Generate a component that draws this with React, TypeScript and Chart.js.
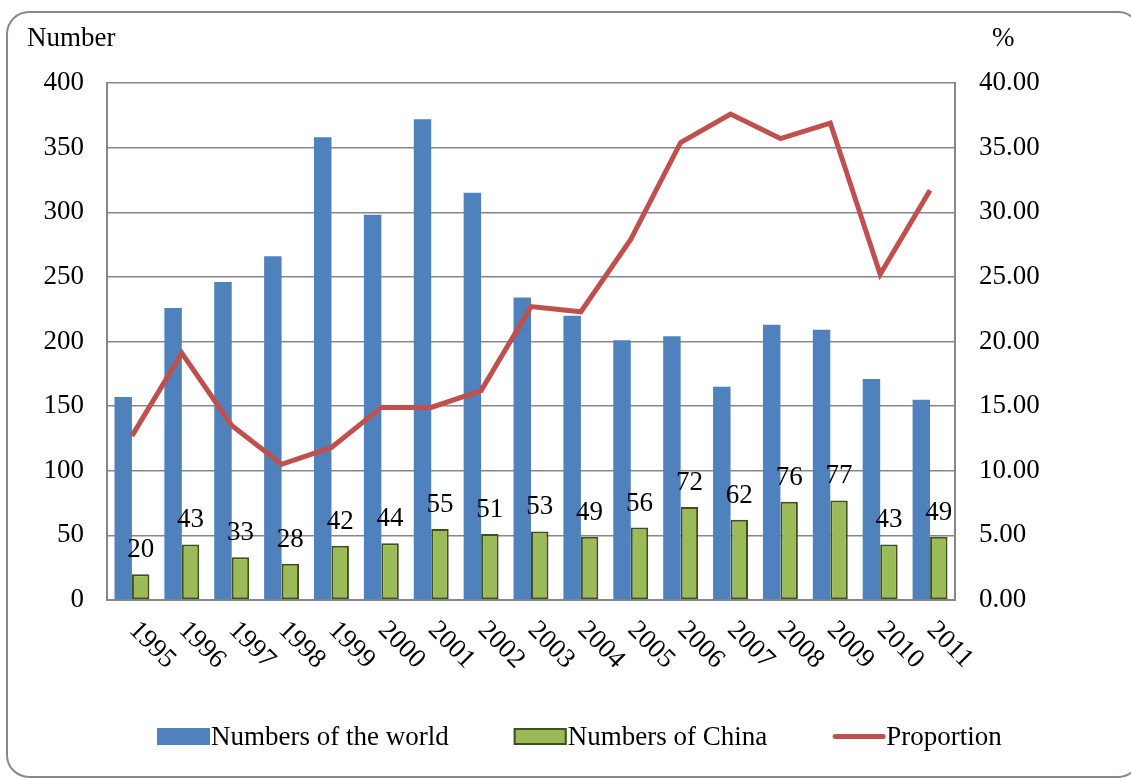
import React, { useEffect, useRef } from "react";
import { Chart, registerables } from "chart.js";

Chart.register(...registerables);

const years = ["1995", "1996", "1997", "1998", "1999", "2000", "2001", "2002", "2003", "2004", "2005", "2006", "2007", "2008", "2009", "2010", "2011"];
const worldCounts = [157, 226, 246, 266, 358, 298, 372, 315, 234, 220, 201, 204, 165, 213, 209, 171, 155];
const chinaCounts = [20, 43, 33, 28, 42, 44, 55, 51, 53, 49, 56, 72, 62, 76, 77, 43, 49];
const proportion = [12.7, 19.1, 13.5, 10.5, 11.8, 14.9, 14.9, 16.2, 22.7, 22.3, 27.9, 35.4, 37.6, 35.7, 36.9, 25.2, 31.7];
const leftAxisTitle = "Number";
const rightAxisTitle = "%";
const seriesNames = ["Numbers of the world", "Numbers of China", "Proportion"];

const FONT = "'Liberation Serif', 'Times New Roman', serif";
const FS = 27;
const BLUE = "#4f81bd";
const GREEN = "#9bbb59";
const GREEN_EDGE = "#3f4f1e";
const RED = "#c0504d";
const GRID = "#878787";

const decorPlugin = {
  id: "decor",
  beforeDraw(chart: any) {
    const ctx = chart.ctx;
    ctx.save();
    ctx.fillStyle = "#ffffff";
    ctx.fillRect(0, 0, chart.width, chart.height);
    // rounded outer frame
    const x0 = 7, y0 = 12, x1 = 1140, y1 = 777, r = 22;
    ctx.strokeStyle = "#888888";
    ctx.lineWidth = 2;
    ctx.beginPath();
    ctx.moveTo(x0 + r, y0);
    ctx.lineTo(x1 - r, y0);
    ctx.arcTo(x1, y0, x1, y0 + r, r);
    ctx.lineTo(x1, y1 - r);
    ctx.arcTo(x1, y1, x1 - r, y1, r);
    ctx.lineTo(x0 + r, y1);
    ctx.arcTo(x0, y1, x0, y1 - r, r);
    ctx.lineTo(x0, y0 + r);
    ctx.arcTo(x0, y0, x0 + r, y0, r);
    ctx.closePath();
    ctx.stroke();
    ctx.restore();
  },
  afterDraw(chart: any) {
    const ctx = chart.ctx;
    ctx.save();
    ctx.font = `${FS}px ${FONT}`;
    ctx.fillStyle = "#000000";

    // data labels on China bars
    const meta = chart.getDatasetMeta(1);
    ctx.textAlign = "center";
    ctx.textBaseline = "alphabetic";
    meta.data.forEach((el: any, i: number) => {
      ctx.fillText(String(chinaCounts[i]), el.x, el.y - 17);
    });

    // rotated x labels
    const xs = chart.scales.x;
    ctx.textAlign = "left";
    ctx.textBaseline = "middle";
    years.forEach((label, i) => {
      const px = xs.getPixelForValue(i);
      ctx.save();
      ctx.translate(px + 1, chart.chartArea.bottom + 26);
      ctx.rotate(Math.PI / 4);
      ctx.fillText(label, 0, 0);
      ctx.restore();
    });

    // axis titles
    ctx.textBaseline = "alphabetic";
    ctx.textAlign = "left";
    ctx.fillText(leftAxisTitle, 27, 46);
    ctx.fillText(rightAxisTitle, 992, 46);

    // legend
    let lx = 157;
    const boxY = 728, boxH = 17, boxW = 53, base = 745, gap = 65;
    seriesNames.forEach((name, i) => {
      if (i === 0) {
        ctx.fillStyle = BLUE;
        ctx.fillRect(lx, boxY, boxW, boxH);
      } else if (i === 1) {
        ctx.fillStyle = GREEN;
        ctx.fillRect(lx, boxY, boxW, boxH);
        ctx.strokeStyle = GREEN_EDGE;
        ctx.lineWidth = 2;
        ctx.strokeRect(lx + 1, boxY + 1, boxW - 2, boxH - 2);
      } else {
        ctx.strokeStyle = RED;
        ctx.lineWidth = 5;
        ctx.lineCap = "round";
        ctx.beginPath();
        ctx.moveTo(lx + 3, boxY + boxH / 2);
        ctx.lineTo(lx + boxW - 2, boxY + boxH / 2);
        ctx.stroke();
      }
      ctx.fillStyle = "#000000";
      ctx.fillText(name, lx + boxW + 1, base);
      lx += boxW + 1 + ctx.measureText(name).width + gap;
    });
    ctx.restore();
  },
};

export default function App() {
  const canvasRef = useRef<HTMLCanvasElement | null>(null);

  useEffect(() => {
    if (!canvasRef.current) return;
    const chart = new Chart(canvasRef.current, {
      type: "bar",
      data: {
        labels: years,
        datasets: [
          {
            label: seriesNames[0],
            data: worldCounts,
            backgroundColor: BLUE,
            borderWidth: 0,
            yAxisID: "y",
            order: 1,
            categoryPercentage: 0.7,
            barPercentage: 1.0,
          } as any,
          {
            label: seriesNames[1],
            data: chinaCounts,
            backgroundColor: GREEN,
            borderColor: GREEN_EDGE,
            borderWidth: 2,
            borderSkipped: false,
            yAxisID: "y",
            order: 1,
            categoryPercentage: 0.7,
            barPercentage: 1.0,
          } as any,
          {
            type: "line",
            label: seriesNames[2],
            data: proportion,
            borderColor: RED,
            backgroundColor: RED,
            borderWidth: 5,
            pointRadius: 0,
            tension: 0,
            fill: false,
            yAxisID: "y1",
            order: 0,
          } as any,
        ],
      },
      options: {
        responsive: false,
        animation: false,
        devicePixelRatio: 1,
        layout: { padding: { top: 83, left: 0, right: 0, bottom: 0 } },
        plugins: {
          legend: { display: false },
          tooltip: { enabled: false },
        },
        scales: {
          x: {
            grid: { display: false },
            border: { display: true, color: GRID, width: 2 },
            ticks: { display: false },
            afterFit: (s: any) => {
              s.height = 178;
            },
          },
          y: {
            position: "left",
            min: 0,
            max: 400,
            ticks: {
              stepSize: 50,
              color: "#000000",
              font: { family: FONT, size: FS },
              padding: 23,
            },
            grid: { color: GRID, lineWidth: 1.5, drawTicks: false },
            border: { display: true, color: GRID, width: 2 },
            afterFit: (s: any) => {
              s.width = 107;
            },
          },
          y1: {
            position: "right",
            min: 0,
            max: 40,
            ticks: {
              stepSize: 5,
              color: "#000000",
              font: { family: FONT, size: FS },
              padding: 24,
              callback: (v: any) => Number(v).toFixed(2),
            },
            grid: { display: false, drawTicks: false },
            border: { display: true, color: GRID, width: 2 },
            afterFit: (s: any) => {
              s.width = 176;
            },
          },
        },
      } as any,
      plugins: [decorPlugin],
    });
    return () => chart.destroy();
  }, []);

  return (
    <div style={{ position: "absolute", left: 0, top: 0, width: 1131, height: 778 }}>
      <canvas ref={canvasRef} width={1131} height={778} style={{ display: "block" }} />
    </div>
  );
}
